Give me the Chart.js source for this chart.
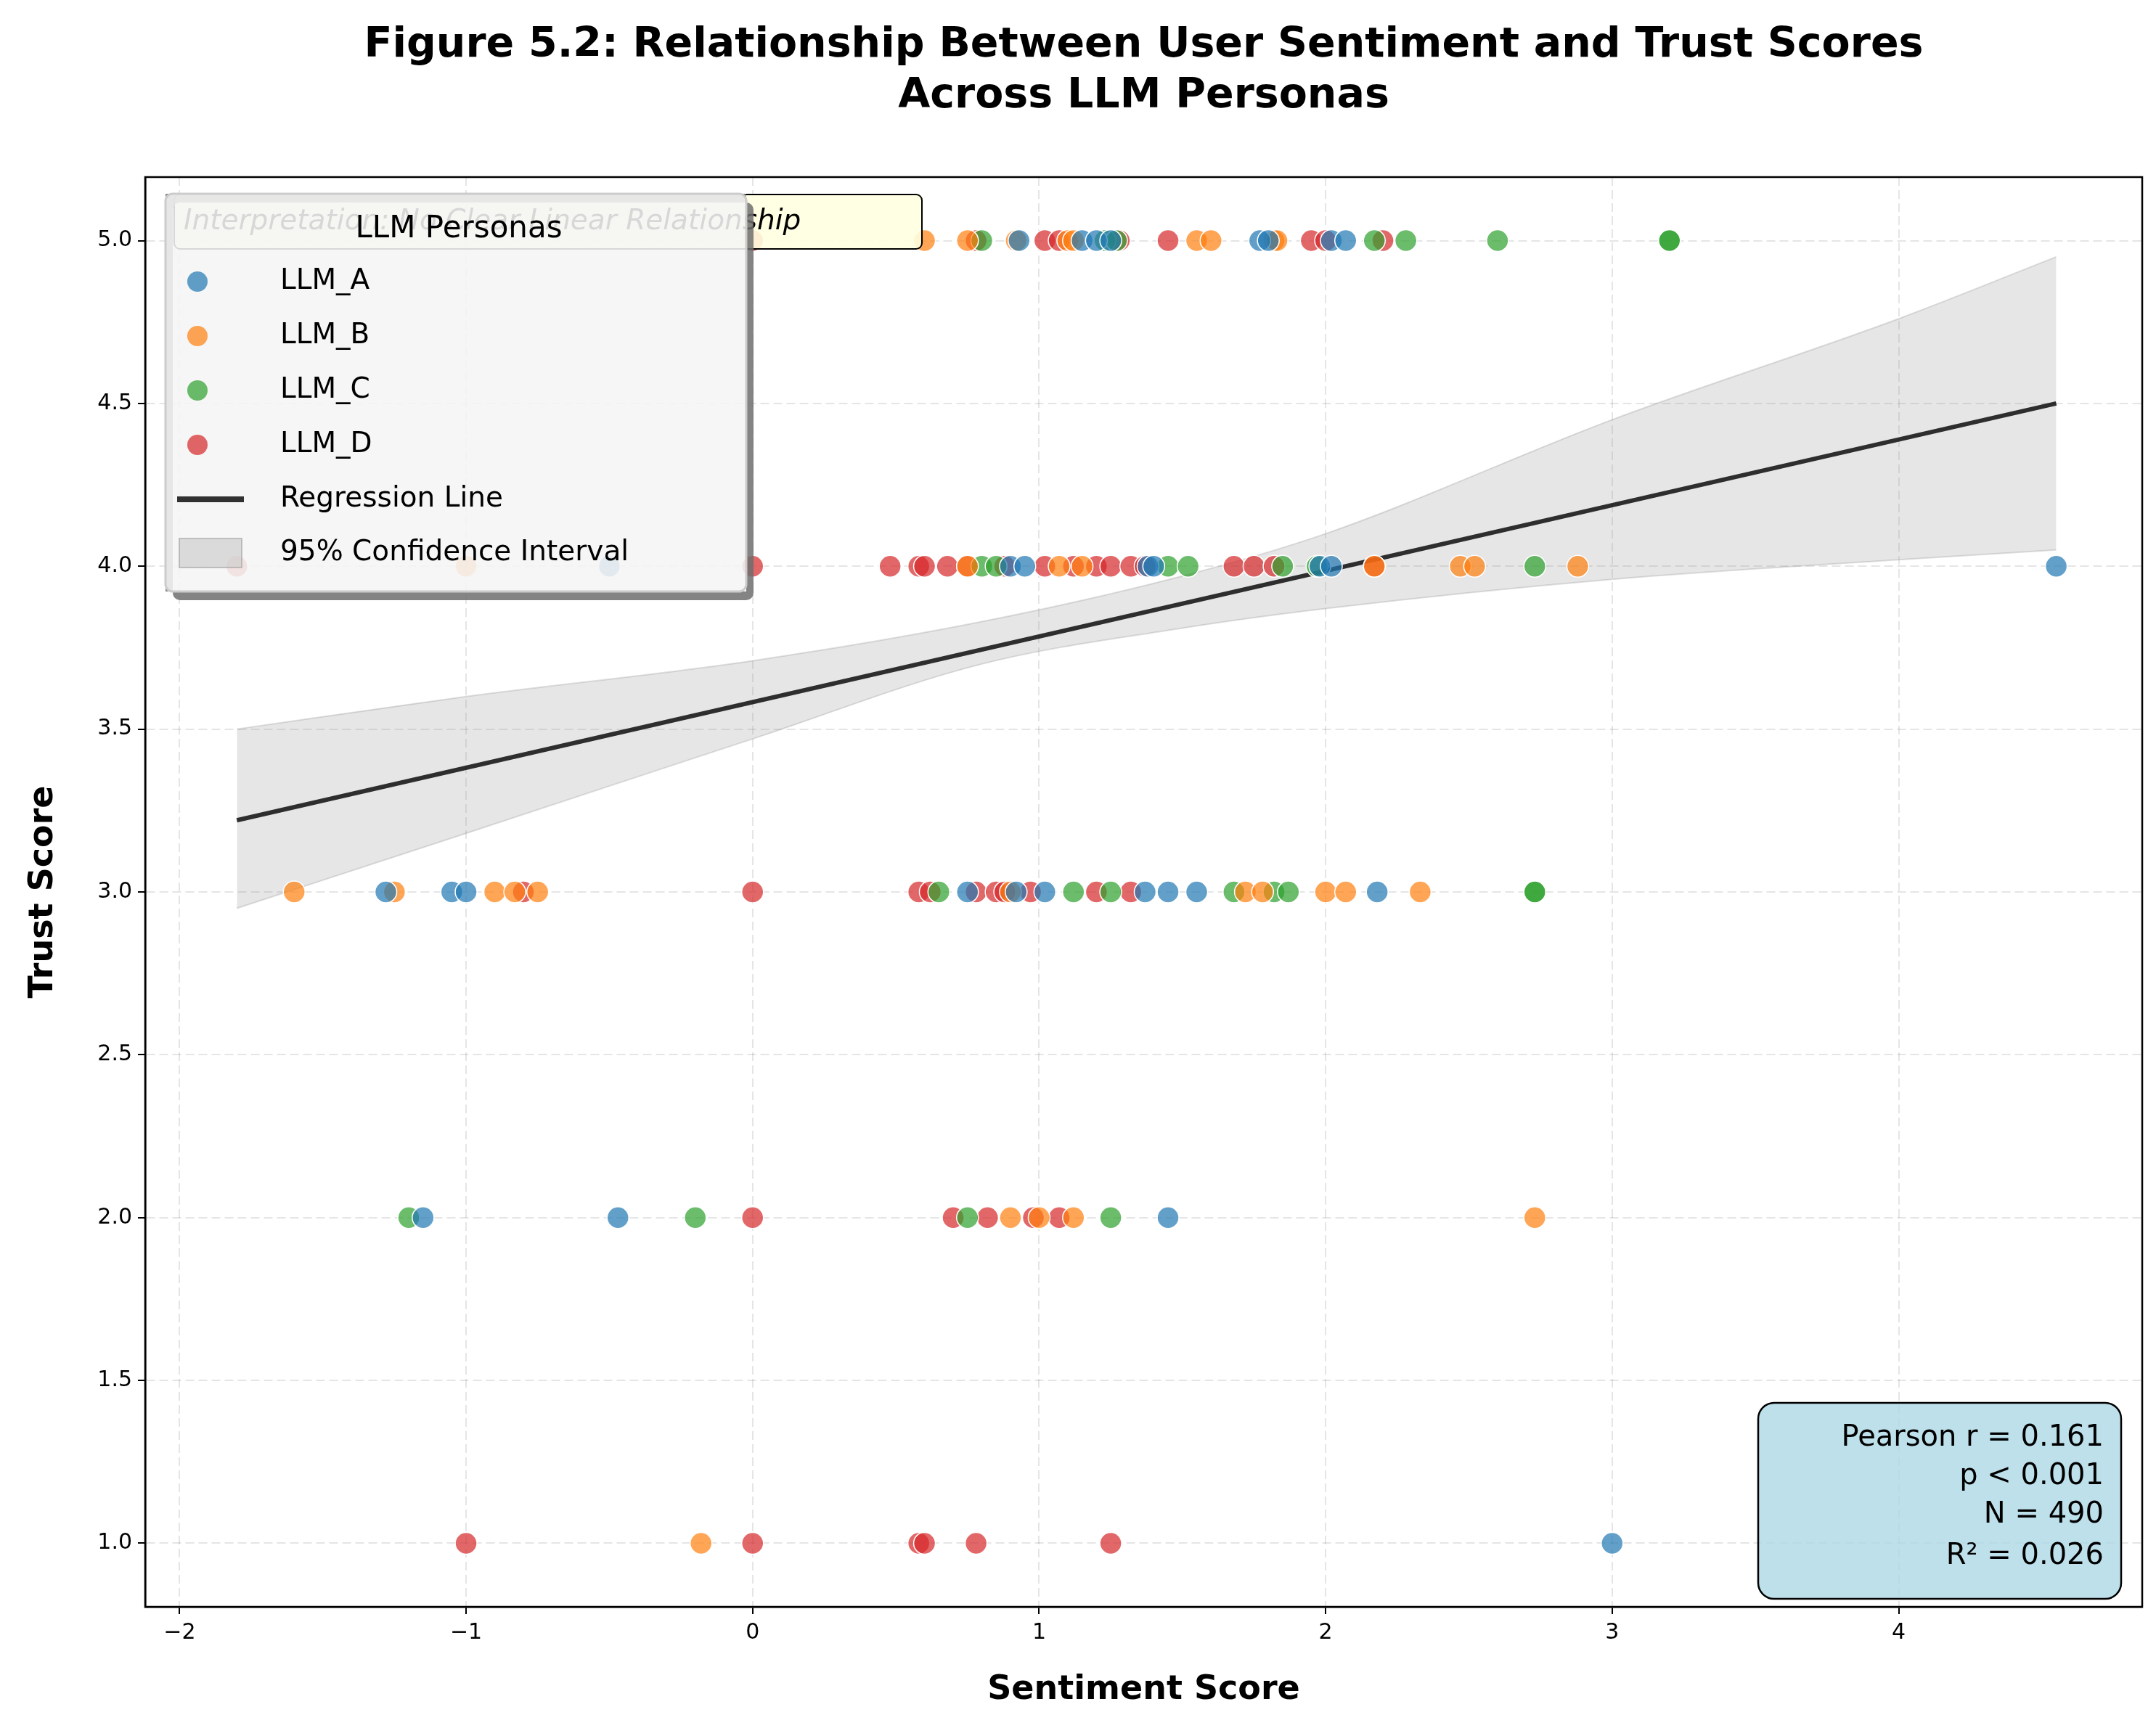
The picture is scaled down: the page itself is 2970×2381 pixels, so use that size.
<!DOCTYPE html>
<html>
<head>
<meta charset="utf-8">
<script src="https://cdn.jsdelivr.net/npm/chart.js@4.4.0/dist/chart.umd.min.js"></script>
<style>
  html, body { margin: 0; padding: 0; background: #fff; }
  canvas { display: block; }
</style>
</head>
<body>
<canvas id="chart" width="2970" height="2381"></canvas>
<script>
// sentiment scores by persona and trust level
const personas = ['LLM_A', 'LLM_B', 'LLM_C', 'LLM_D'];
const colors = ['rgba(31,119,180,0.7)', 'rgba(255,127,14,0.7)', 'rgba(44,160,44,0.7)', 'rgba(214,39,40,0.7)'];

const llmA = {
    5: [0.93, 1.15, 1.2, 1.25, 1.77, 1.8, 2.02, 2.07],
    4: [-0.5, 0.9, 0.95, 1.38, 1.4, 1.98, 2.02, 4.55],
    3: [-1.28, -1.05, -1.0, 0.75, 0.92, 1.02, 1.37, 1.45, 1.55, 2.18],
    2: [-1.15, -0.47, 1.45],
    1: [3.0]
};
const llmB = {
    5: [0.6, 0.75, 0.92, 1.1, 1.12, 1.55, 1.6, 1.82, 1.83],
    4: [-1.0, 0.75, 1.07, 1.15, 2.17, 2.47, 2.52, 2.88],
    3: [-1.6, -1.25, -0.9, -0.83, -0.75, 0.9, 1.72, 1.78, 2.0, 2.07, 2.33],
    2: [0.9, 1.0, 1.12, 2.73],
    1: [-0.18]
};
const llmC = {
    5: [0.8, 1.23, 1.27, 2.17, 2.28, 2.6, 3.2, 3.2],
    4: [0.8, 0.85, 1.45, 1.52, 1.85, 1.97, 2.73],
    3: [0.65, 1.12, 1.25, 1.68, 1.82, 1.87, 2.73, 2.73],
    2: [-1.2, -0.2, 0.75, 1.25],
    1: []
};
const llmD = {
    5: [0, 0.78, 1.02, 1.07, 1.28, 1.45, 1.95, 2.0, 2.2],
    4: [-1.8, 0, 0.48, 0.58, 0.6, 0.68, 0.75, 0.88, 1.02, 1.12, 1.2, 1.25, 1.32, 1.37, 1.68, 1.75, 1.82, 2.17],
    3: [-0.8, 0, 0.58, 0.62, 0.78, 0.85, 0.88, 0.97, 1.2, 1.32],
    2: [0, 0.7, 0.82, 0.98, 1.07],
    1: [-1.0, 0, 0.58, 0.6, 0.78, 1.25]
};
const seriesData = [llmA, llmB, llmC, llmD];

// regression line and 95% CI band
const regX = [-1.8, 4.55];
const regY = [3.22, 4.50];
const ciX = [-1.8, -1.0, 0, 0.8, 1.5, 2.0, 3.0, 4.0, 4.55];
const ciLow = [2.95, 3.18, 3.47, 3.70, 3.81, 3.87, 3.96, 4.02, 4.05];
const ciHigh = [3.50, 3.60, 3.71, 3.83, 3.97, 4.10, 4.45, 4.76, 4.95];

const xTicks = [-2, -1, 0, 1, 2, 3, 4];
const yTicks = [1.0, 1.5, 2.0, 2.5, 3.0, 3.5, 4.0, 4.5, 5.0];

const statsLines = ['Pearson r = 0.161', 'p < 0.001', 'N = 490', 'R\u00b2 = 0.026'];
const noteText = 'Interpretation: No Clear Linear Relationship';

const FONT = '"DejaVu Sans", sans-serif';

function toPoints(obj) {
    const pts = [];
    [5, 4, 3, 2, 1].forEach(t => obj[t].forEach(x => pts.push({ x: x, y: t })));
    return pts;
}

const datasets = personas.map((p, i) => ({
    type: 'scatter',
    label: p,
    data: toPoints(seriesData[i]),
    backgroundColor: colors[i],
    borderColor: '#ffffff',
    borderWidth: 1.5,
    pointRadius: 15,
    order: 0
}));
datasets.push({
    type: 'line', label: 'Regression Line',
    data: regX.map((x, i) => ({ x: x, y: regY[i] })),
    borderColor: 'rgba(0,0,0,0.8)', borderWidth: 6, pointRadius: 0, order: 1
});
datasets.push({
    type: 'line', label: 'ci_low',
    data: ciX.map((x, i) => ({ x: x, y: ciLow[i] })),
    borderColor: 'rgba(128,128,128,0.25)', borderWidth: 2, pointRadius: 0,
    tension: 0.4, cubicInterpolationMode: 'monotone', order: 2, fill: false
});
datasets.push({
    type: 'line', label: '95% Confidence Interval',
    data: ciX.map((x, i) => ({ x: x, y: ciHigh[i] })),
    borderColor: 'rgba(128,128,128,0.25)', borderWidth: 2, pointRadius: 0,
    backgroundColor: 'rgba(128,128,128,0.2)',
    tension: 0.4, cubicInterpolationMode: 'monotone', order: 2, fill: '-1'
});

function roundRect(ctx, x, y, w, h, r) {
    ctx.moveTo(x + r, y);
    ctx.arcTo(x + w, y, x + w, y + h, r);
    ctx.arcTo(x + w, y + h, x, y + h, r);
    ctx.arcTo(x, y + h, x, y, r);
    ctx.arcTo(x, y, x + w, y, r);
    ctx.closePath();
}

const overlay = {
    id: 'overlay',
    afterDraw(chart) {
        const ctx = chart.ctx;
        const area = chart.chartArea;
        ctx.save();
        // title
        ctx.fillStyle = '#000';
        ctx.textAlign = 'center';
        ctx.textBaseline = 'middle';
        ctx.font = 'bold 57px ' + FONT;
        const cx = (area.left + area.right) / 2;
        ctx.fillText('Figure 5.2: Relationship Between User Sentiment and Trust Scores', cx, 63);
        ctx.fillText('Across LLM Personas', cx, 133);

        // annotation note
        ctx.beginPath();
        roundRect(ctx, 240, 268, 1030, 75, 8);
        ctx.fillStyle = 'rgba(255,255,224,0.9)';
        ctx.fill();
        ctx.strokeStyle = '#000';
        ctx.lineWidth = 2;
        ctx.stroke();
        ctx.fillStyle = '#000';
        ctx.font = 'italic 39px ' + FONT;
        ctx.textAlign = 'left';
        ctx.fillText(noteText, 253, 306);

        // legend shadow (only the part outside the face)
        const lx = 228, ly = 267, lw = 800, lh = 548;
        ctx.beginPath();
        roundRect(ctx, lx + 10, ly + 12, lw, lh, 10);
        ctx.rect(lx, ly, lw, lh);
        ctx.fillStyle = 'rgba(110,110,110,0.85)';
        ctx.fill('evenodd');
        ctx.beginPath();
        roundRect(ctx, lx, ly, lw, lh, 10);
        ctx.fillStyle = 'rgba(245,245,245,0.88)';
        ctx.fill();
        ctx.strokeStyle = '#cccccc';
        ctx.lineWidth = 3;
        ctx.stroke();
        ctx.fillStyle = '#000';
        ctx.font = '42px ' + FONT;
        ctx.textAlign = 'center';
        ctx.fillText('LLM Personas', 632, 316);
        ctx.textAlign = 'left';
        ctx.font = '39px ' + FONT;
        const rows = [388, 463, 538, 613, 688, 762];
        personas.forEach((p, i) => {
            ctx.beginPath();
            ctx.arc(272, rows[i], 14, 0, Math.PI * 2);
            ctx.fillStyle = colors[i];
            ctx.fill();
            ctx.fillStyle = '#000';
            ctx.fillText(p, 386, rows[i]);
        });
        ctx.fillStyle = 'rgba(0,0,0,0.8)';
        ctx.fillRect(244, rows[4] - 4, 92, 8);
        ctx.fillStyle = '#000';
        ctx.fillText('Regression Line', 386, rows[4]);
        ctx.fillStyle = 'rgba(200,200,200,0.6)';
        ctx.fillRect(247, rows[5] - 20, 86, 40);
        ctx.strokeStyle = 'rgba(160,160,160,0.6)';
        ctx.lineWidth = 2;
        ctx.strokeRect(247, rows[5] - 20, 86, 40);
        ctx.fillStyle = '#000';
        ctx.fillText('95% Confidence Interval', 386, rows[5]);

        // stats box
        ctx.beginPath();
        roundRect(ctx, 2422, 1933, 500, 270, 22);
        ctx.fillStyle = 'rgba(173,216,230,0.8)';
        ctx.fill();
        ctx.strokeStyle = '#000';
        ctx.lineWidth = 2.5;
        ctx.stroke();
        ctx.fillStyle = '#000';
        ctx.textAlign = 'right';
        ctx.font = '40px ' + FONT;
        const sy = [1982, 2035, 2088, 2145];
        statsLines.forEach((s, i) => ctx.fillText(s, 2898, sy[i]));
        ctx.restore();
    }
};

new Chart(document.getElementById('chart'), {
    data: { datasets: datasets },
    options: {
        responsive: false,
        animation: false,
        devicePixelRatio: 1,
        layout: { padding: { top: 244, right: 19, left: 28, bottom: 0 } },
        plugins: { legend: { display: false }, tooltip: { enabled: false }, title: { display: false } },
        scales: {
            x: {
                type: 'linear', min: -2.12, max: 4.85,
                afterBuildTicks: s => { s.ticks = xTicks.map(v => ({ value: v })); },
                afterFit: s => { s.height = 167; },
                ticks: { font: { size: 30, family: FONT }, color: '#000', padding: 8, callback: v => (v < 0 ? '\u2212' + Math.abs(v) : String(v)) },
                grid: { color: 'rgba(0,0,0,0.1)', lineWidth: 2, tickLength: 10, tickColor: '#000' },
                border: { color: '#000', width: 2.5, dash: [12, 6] },
                title: { display: true, text: 'Sentiment Score', font: { size: 46, weight: 'bold', family: FONT }, color: '#000', padding: { top: 0, bottom: 24 } }
            },
            y: {
                type: 'linear', min: 0.805, max: 5.195,
                afterBuildTicks: s => { s.ticks = yTicks.map(v => ({ value: v })); },
                afterFit: s => { s.width = 172; },
                ticks: { font: { size: 30, family: FONT }, color: '#000', padding: 8, callback: v => v.toFixed(1) },
                grid: { color: 'rgba(0,0,0,0.1)', lineWidth: 2, tickLength: 10, tickColor: '#000' },
                border: { color: '#000', width: 2.5, dash: [12, 6] },
                title: { display: true, text: 'Trust Score', font: { size: 46, weight: 'bold', family: FONT }, color: '#000', padding: { bottom: 10 } }
            }
        }
    },
    plugins: [overlay, {
        id: 'frame',
        beforeDatasetsDraw(chart) {
            const a = chart.chartArea, ctx = chart.ctx;
            ctx.save();
            ctx.strokeStyle = '#000';
            ctx.lineWidth = 2.5;
            ctx.setLineDash([]);
            ctx.strokeRect(a.left, a.top, a.right - a.left, a.bottom - a.top);
            ctx.restore();
        }
    }]
});
</script>
</body>
</html>
